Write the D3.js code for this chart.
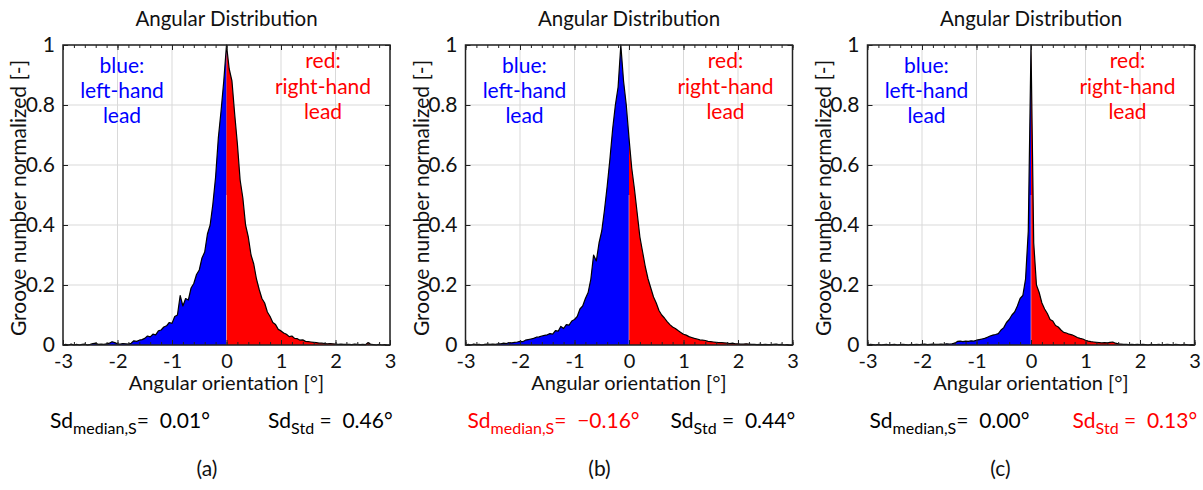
<!DOCTYPE html>
<html>
<head>
<meta charset="utf-8">
<script src="https://cdn.jsdelivr.net/npm/d3@7"></script>
<style>
  body { margin: 0; background: #fff; }
  text { font-family: Lato, "Open Sans", sans-serif; }
</style>
</head>
<body>
<script>
// histogram bins: centres from -3 to 3 in steps of 0.05
let binStart = -3;
let binStep = 0.05;

// normalized groove counts
let countsA = [
  0, 0.002, 0, 0.003, 0, 0.002, 0, 0.002, 0.003, 0,
  0.002, 0.005, 0.006, 0.002, 0.003, 0.002, 0.004, 0.006, 0.011, 0.008,
  0.004, 0.003, 0.005, 0.004, 0.003, 0.006, 0.014, 0.012, 0.016, 0.018,
  0.022, 0.03, 0.027, 0.036, 0.034, 0.047, 0.05, 0.06, 0.064, 0.075,
  0.072, 0.095, 0.1, 0.165, 0.13, 0.155, 0.15, 0.19, 0.205, 0.235,
  0.25, 0.29, 0.31, 0.37, 0.40, 0.47, 0.56, 0.69, 0.78, 0.88,
  1.0,
  0.92, 0.88, 0.77, 0.67, 0.55, 0.49, 0.40, 0.36, 0.30, 0.27,
  0.22, 0.185, 0.155, 0.14, 0.11, 0.095, 0.075, 0.068, 0.052, 0.047,
  0.04, 0.036, 0.028, 0.03, 0.022, 0.021, 0.016, 0.017, 0.012, 0.011,
  0.01, 0.009, 0.008, 0.006, 0.006, 0.005, 0.004, 0.005, 0.004, 0.003,
  0.002, 0.003, 0.002, 0.002, 0.002, 0.001, 0.003, 0.002, 0.001, 0.002,
  0.001, 0.008, 0.002, 0.001, 0, 0.002, 0, 0.001, 0, 0
];

let countsB = [
  0, 0.002, 0, 0.003, 0.001, 0.002, 0, 0.002, 0.003, 0.002,
  0.003, 0.002, 0.004, 0.004, 0.006, 0.005, 0.008, 0.007, 0.009, 0.01,
  0.012, 0.011, 0.016, 0.018, 0.02, 0.022, 0.026, 0.027, 0.03, 0.032,
  0.034, 0.038, 0.036, 0.048, 0.046, 0.062, 0.055, 0.068, 0.066, 0.08,
  0.085, 0.095, 0.12, 0.13, 0.155, 0.175, 0.22, 0.30, 0.28, 0.34,
  0.38, 0.45, 0.53, 0.62, 0.72, 0.80, 0.86, 1.0, 0.88, 0.80,
  0.69,
  0.59, 0.52, 0.44, 0.36, 0.31, 0.26, 0.22, 0.19, 0.16, 0.14,
  0.115, 0.10, 0.09, 0.078, 0.068, 0.06, 0.055, 0.048, 0.042, 0.036,
  0.033, 0.028, 0.025, 0.022, 0.02, 0.017, 0.016, 0.015, 0.012, 0.011,
  0.01, 0.009, 0.008, 0.008, 0.007, 0.006, 0.005, 0.006, 0.004, 0.004,
  0.003, 0.003, 0.004, 0.003, 0.002, 0.002, 0.001, 0.002, 0.001, 0.002,
  0.001, 0.001, 0.002, 0.003, 0.001, 0.002, 0, 0.001, 0, 0
];

let countsC = [
  0, 0.002, 0.001, 0, 0.002, 0, 0.001, 0.002, 0, 0.001,
  0.002, 0, 0.001, 0.002, 0.001, 0, 0.002, 0.001, 0.002, 0.001,
  0.002, 0.003, 0.001, 0.002, 0.003, 0.002, 0.002, 0.003, 0.002, 0.004,
  0.003, 0.004, 0.006, 0.012, 0.013, 0.011, 0.013, 0.012, 0.014, 0.013,
  0.016, 0.018, 0.02, 0.022, 0.026, 0.03, 0.033, 0.035, 0.038, 0.05,
  0.058, 0.075, 0.085, 0.1, 0.11, 0.13, 0.155, 0.165, 0.22, 0.38,
  1.0,
  0.34, 0.2, 0.175, 0.14, 0.12, 0.105, 0.085, 0.08, 0.065, 0.06,
  0.05, 0.042, 0.04, 0.036, 0.034, 0.03, 0.025, 0.022, 0.02, 0.016,
  0.013, 0.011, 0.01, 0.009, 0.008, 0.007, 0.008, 0.007, 0.009, 0.01,
  0.006, 0.004, 0.003, 0.002, 0.002, 0.001, 0.002, 0.001, 0.002, 0.001,
  0.002, 0.001, 0, 0.002, 0.001, 0.001, 0.002, 0, 0.001, 0.002,
  0.001, 0, 0.002, 0.001, 0, 0.002, 0.001, 0, 0.001, 0
];

// tick labels
let xTicks = [-3, -2, -1, 0, 1, 2, 3];
let yTicks = [0, 0.2, 0.4, 0.6, 0.8, 1];

// text under each panel
let panelLetters = ["(a)", "(b)", "(c)"];
let sdMedianValues = ["0.01°", "\u22120.16°", "0.00°"];
let sdStdValues = ["0.46°", "0.44°", "0.13°"];
let sdMedianColors = ["#000", "#ff0000", "#000"];
let sdStdColors = ["#000", "#000", "#ff0000"];

let allCounts = [countsA, countsB, countsC];

// layout of the three panels
let svgWidth = 1203;
let svgHeight = 490;
let plotWidth = 327;
let plotTop = 45;
let plotHeight = 300;
let panelLefts = [63, 465.5, 867.5];
let letterOffsets = [144, 134, 133];
let medianOffsets = [-13, 2, 2];
let font = 21;

let svg = d3.select("body")
  .append("svg")
  .attr("width", svgWidth)
  .attr("height", svgHeight);

svg.append("rect")
  .attr("width", svgWidth)
  .attr("height", svgHeight)
  .attr("fill", "#fff");

let xScale = d3.scaleLinear().domain([-3, 3]).range([0, plotWidth]);
let yScale = d3.scaleLinear().domain([0, 1]).range([plotHeight, 0]);

let binX = i => binStart + i * binStep;

function drawPanel(p) {
  let counts = allCounts[p];
  let points = counts.map((v, i) => ({ x: +binX(i).toFixed(2), y: v }));

  let g = svg.append("g")
    .attr("transform", `translate(${panelLefts[p]}, ${plotTop})`);

  // grid lines
  g.selectAll(".gx")
    .data(xTicks)
    .enter()
    .append("line")
    .attr("x1", d => xScale(d))
    .attr("x2", d => xScale(d))
    .attr("y1", 0)
    .attr("y2", plotHeight)
    .attr("stroke", "#d9d9d9")
    .attr("stroke-width", 1);

  g.selectAll(".gy")
    .data(yTicks)
    .enter()
    .append("line")
    .attr("x1", 0)
    .attr("x2", plotWidth)
    .attr("y1", d => yScale(d))
    .attr("y2", d => yScale(d))
    .attr("stroke", "#d9d9d9")
    .attr("stroke-width", 1);

  // filled areas, blue left of zero and red right of zero
  let area = d3.area()
    .x(d => xScale(d.x))
    .y0(yScale(0))
    .y1(d => yScale(d.y));

  g.append("path")
    .datum(points.filter(d => d.x <= 0))
    .attr("d", area)
    .attr("fill", "#0000ff");

  g.append("path")
    .datum(points.filter(d => d.x >= 0))
    .attr("d", area)
    .attr("fill", "#ff0000");

  // thin light seam at zero
  g.append("line")
    .attr("x1", xScale(0))
    .attr("x2", xScale(0))
    .attr("y1", yScale(0))
    .attr("y2", yScale(0.5))
    .attr("stroke", "#f4c0c0")
    .attr("stroke-width", 0.6);

  // outline of the histogram
  let line = d3.line()
    .x(d => xScale(d.x))
    .y(d => yScale(d.y));

  g.append("path")
    .datum(points)
    .attr("d", line)
    .attr("fill", "none")
    .attr("stroke", "#000")
    .attr("stroke-width", 1.2)
    .attr("stroke-linejoin", "round");

  // axes with inward ticks
  let minorX = d3.range(-3, 3.001, 0.2).map(d => +d.toFixed(1));

  g.append("g")
    .attr("transform", `translate(0, ${plotHeight})`)
    .call(d3.axisBottom(xScale).tickValues(minorX).tickSize(-3).tickFormat(""))
    .call(a => a.select(".domain").remove());

  g.append("g")
    .call(d3.axisTop(xScale).tickValues(minorX).tickSize(-3).tickFormat(""))
    .call(a => a.select(".domain").remove());

  g.append("g")
    .attr("transform", `translate(0, ${plotHeight})`)
    .call(d3.axisBottom(xScale).tickValues(xTicks).tickSize(-5).tickPadding(9)
      .tickFormat(d => d < 0 ? "-" + Math.abs(d) : d))
    .call(a => a.select(".domain").remove())
    .call(a => a.selectAll("text").attr("font-size", 20).attr("fill", "#111").attr("font-family", "Lato"));

  g.append("g")
    .call(d3.axisTop(xScale).tickValues(xTicks).tickSize(-5).tickFormat(""))
    .call(a => a.select(".domain").remove());

  g.append("g")
    .call(d3.axisLeft(yScale).tickValues(yTicks).tickSize(-5).tickPadding(8)
      .tickFormat(d => d === 0 || d === 1 ? d : d.toFixed(1)))
    .call(a => a.select(".domain").remove())
    .call(a => a.selectAll("text").attr("font-size", font).attr("fill", "#111").attr("font-family", "Lato"));

  g.append("g")
    .attr("transform", `translate(${plotWidth}, 0)`)
    .call(d3.axisRight(yScale).tickValues(yTicks).tickSize(-5).tickFormat(""))
    .call(a => a.select(".domain").remove());

  g.selectAll(".tick line").attr("stroke", "#222");

  // frame
  g.append("rect")
    .attr("width", plotWidth)
    .attr("height", plotHeight)
    .attr("fill", "none")
    .attr("stroke", "#222")
    .attr("stroke-width", 1.5);

  // title
  g.append("text")
    .attr("x", plotWidth / 2)
    .attr("y", -19)
    .attr("text-anchor", "middle")
    .attr("font-size", 20.5)
    .attr("fill", "#111")
    .text("Angular Distribution");

  // legend texts inside the plot
  let blueLines = ["blue:", "left-hand", "lead"];
  let redLines = ["red:", "right-hand", "lead"];

  g.selectAll(".blueText")
    .data(blueLines)
    .enter()
    .append("text")
    .attr("x", 59)
    .attr("y", (d, i) => 28 + i * 25)
    .attr("text-anchor", "middle")
    .attr("font-size", font)
    .attr("fill", "#0000ff")
    .text(d => d);

  g.selectAll(".redText")
    .data(redLines)
    .enter()
    .append("text")
    .attr("x", plotWidth - 67)
    .attr("y", (d, i) => 23 + i * 25.5)
    .attr("text-anchor", "middle")
    .attr("font-size", font)
    .attr("fill", "#ff0000")
    .text(d => d);

  // axis labels
  g.append("text")
    .attr("x", plotWidth / 2)
    .attr("y", plotHeight + 45)
    .attr("text-anchor", "middle")
    .attr("font-size", 20)
    .attr("fill", "#111")
    .text("Angular orientation [°]");

  g.append("text")
    .attr("transform", `translate(-37, ${plotHeight / 2 + 3}) rotate(-90)`)
    .attr("text-anchor", "middle")
    .attr("font-size", 21)
    .attr("fill", "#111")
    .text("Groove number normalized [-]");

  // statistics line
  let med = g.append("text")
    .attr("x", medianOffsets[p])
    .attr("y", plotHeight + 83)
    .attr("font-size", font)
    .attr("fill", sdMedianColors[p])
    .style("white-space", "pre");
  med.append("tspan").text("Sd");
  med.append("tspan").attr("font-size", 16).attr("dy", 6).text("median,S");
  med.append("tspan").attr("dy", -6).text("=  " + sdMedianValues[p]);

  let std = g.append("text")
    .attr("x", 205)
    .attr("y", plotHeight + 83)
    .attr("font-size", font)
    .attr("fill", sdStdColors[p])
    .style("white-space", "pre");
  std.append("tspan").text("Sd");
  std.append("tspan").attr("font-size", 16).attr("dy", 6).text("Std");
  std.append("tspan").attr("dy", -6).text(" =  " + sdStdValues[p]);

  // panel letter
  g.append("text")
    .attr("x", letterOffsets[p])
    .attr("y", plotHeight + 131)
    .attr("text-anchor", "middle")
    .attr("font-size", font)
    .attr("fill", "#111")
    .text(panelLetters[p]);
}

[0, 1, 2].forEach(drawPanel);
</script>
</body>
</html>
